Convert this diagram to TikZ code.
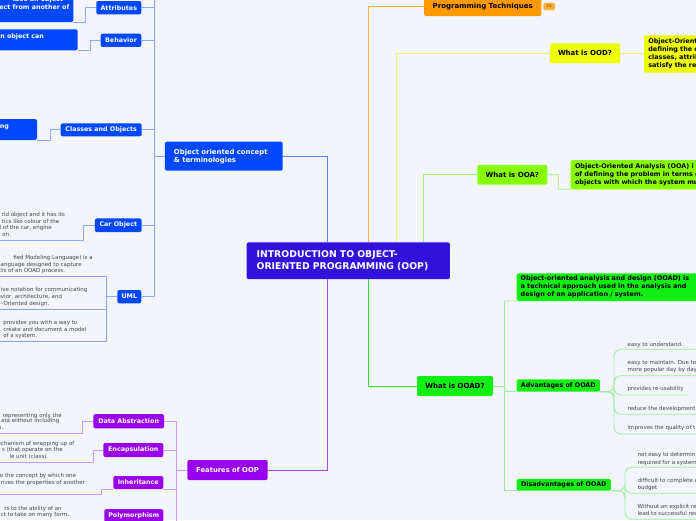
\documentclass[tikz,border=0pt]{standalone}
\usepackage{fontspec}
\setmainfont{DejaVu Sans}
\definecolor{bg}{HTML}{F3F5FD}
\definecolor{cblue}{HTML}{0048FF}
\definecolor{lblue}{HTML}{8AA8FF}
\definecolor{mblue}{HTML}{5A80FF}
\definecolor{cindigo}{HTML}{3311DD}
\definecolor{corange}{HTML}{FF9900}
\definecolor{lorange}{HTML}{FFB050}
\definecolor{cyellow}{HTML}{EEFF00}
\definecolor{lyellow}{HTML}{F2F270}
\definecolor{clime}{HTML}{88FF00}
\definecolor{llime}{HTML}{A8EE70}
\definecolor{cgreen}{HTML}{11EE11}
\definecolor{mgreen}{HTML}{33DD33}
\definecolor{lgreen}{HTML}{99EE99}
\definecolor{cpurple}{HTML}{9900EE}
\definecolor{mpurple}{HTML}{AA44EE}
\definecolor{lpurple}{HTML}{CC99FF}
\definecolor{txtgray}{HTML}{444444}
\definecolor{badgetxt}{HTML}{B05A00}
\begin{document}
\begin{tikzpicture}[x=1pt,y=-1pt,
  every node/.style={inner sep=0pt, outer sep=0pt},
  nbox/.style={rounded corners=2pt, align=center},
  fcent/.style={font=\fontsize{9.3}{11.6}\selectfont\bfseries},
  fla/.style={font=\fontsize{7}{8}\selectfont\bfseries},
  flb/.style={font=\fontsize{6.35}{8}\selectfont\bfseries},
  fdef/.style={font=\fontsize{6.45}{8}\selectfont\bfseries},
  fsm/.style={font=\fontsize{5.5}{7}\selectfont, text=txtgray},
  bluebox/.style={nbox, fill=cblue, text=white},
  purplebox/.style={nbox, fill=cpurple, text=white},
  bln/.style={draw=lblue, line width=0.8pt},
  mbln/.style={draw=mblue, line width=1pt},
  pln/.style={draw=lpurple, line width=0.8pt},
  mpln/.style={draw=mpurple, line width=1pt},
  gln/.style={draw=lgreen, line width=0.8pt},
  mgln/.style={draw=mgreen, line width=1pt},
]
\fill[bg] (0,0) rectangle (696,520);
\useasboundingbox (0,0) rectangle (696,520);

% ---------- central ----------
\node[nbox, fill=cindigo, text=white, fcent, minimum width=203.3pt, minimum height=36.7pt,
      text width=183.3pt, inner xsep=10pt, align=left] (root) at (348.3,260.7)
      {INTRODUCTION TO OBJECT-\\ORIENTED PROGRAMMING (OOP)};

% ---------- object oriented concept ----------
\node[bluebox, font=\fontsize{6.9}{8}\selectfont\bfseries, minimum width=117.7pt, minimum height=29pt,
      text width=99.7pt, inner xsep=9pt, align=left] (ooc) at (223.8,156.2)
      {Object oriented concept\\\& terminologies};
\draw[mbln] (ooc.east) -| ([xshift=81.3pt]root.north west);

\node[bluebox, flb, minimum width=45pt, minimum height=13.3pt] (attr) at (118.8,7.7) {Attributes};
\node[bluebox, flb, minimum width=40.6pt, minimum height=13.3pt] (beh) at (121,40.3) {Behavior};
\node[bluebox, flb, minimum width=81pt, minimum height=13pt] (cls) at (101.2,129.8) {Classes and Objects};
\node[bluebox, flb, minimum width=46.7pt, minimum height=13.7pt] (car) at (118.3,225.2) {Car Object};
\node[bluebox, flb, minimum width=24pt, minimum height=13.3pt] (uml) at (129.3,296.7) {UML};

\coordinate (btop) at (154,0);
\draw[bln] (btop) -- (uml.east -| btop);
\draw[bln] (ooc.west) -- (ooc.west -| btop);
\draw[bln] (attr.east) -- (attr.east -| btop);
\draw[bln] (beh.east) -- (beh.east -| btop);
\draw[bln] (cls.east) -- (cls.east -| btop);
\draw[bln] (car.east) -- (car.east -| btop);
\draw[bln] (uml.east) -- (uml.east -| btop);

% blue child boxes (cut by the left edge)
\node[bluebox, minimum width=133.3pt, minimum height=36pt] (attrc) at (6.65,4) {};
\node[flb, text=white, anchor=base east] (attrl1) at (63,1.5) {ibes an object};
\node[flb, text=white, anchor=base east] (attrl2) at (69.3,9.5) {ect from another of};
\draw[bln] (attr.west) -| (85.7,22) -- (attrc.south east);

\node[bluebox, minimum width=137.7pt, minimum height=21pt] (behc) at (8.85,39.8) {};
\node[flb, text=white, anchor=base east] (behl1) at (44,38.9) {n object can};
\draw[bln] (beh.west) -| (90,50.3) -- (behc.south east);

\node[bluebox, minimum width=97pt, minimum height=21pt] (clsc) at (-11.5,129.5) {};
\node[flb, text=white, anchor=base east] (clsl1) at (9,128.2) {ng};
\draw[bln] (cls.west) -| (50,140) -- (clsc.south east);

% car object text
\node[fsm, anchor=base east] (car1) at (65,216.1) {rld object and it has its};
\node[fsm, anchor=base east] (car2) at (59.3,223.1) {tics like colour of the};
\node[fsm, anchor=base east] (car3) at (51.7,229.8) {l of the car, engine};
\node[fsm, anchor=base east] (car4) at (11,236.8) {n on.};
\coordinate (carU) at (0,240);
\draw[bln] (car.west) -| (83.3,240) -- (carU);

% UML texts
\node[fsm, anchor=base east] (umla1) at (92.7,259.5) {fied Modeling Language) is a};
\node[fsm, anchor=base east] (umla2) at (81.7,266.1) {language designed to capture};
\node[fsm, anchor=base east] (umla3) at (65,272.8) {cts of an OOAD process.};
\node[fsm, anchor=base east] (umlb1) at (87.3,291.8) {ive notation for communicating};
\node[fsm, anchor=base east] (umlb2) at (62,298.5) {avior, architecture, and};
\node[fsm, anchor=base east] (umlb3) at (49.3,305.1) {-Oriented design.};
\node[fsm, anchor=base west] (umlc1) at (3.3,324.5) {provides you with a way to};
\node[fsm, anchor=base west] (umlc2) at (3.3,331.1) {create and document a model};
\node[fsm, anchor=base west] (umlc3) at (3.3,337.8) {of a system.};
\coordinate (umlUa) at (0,276);
\coordinate (umlUb) at (0,309);
\coordinate (umlUc) at (0,341.7);
\coordinate (umlJ) at (106.7,296.7);
\draw[bln] (umlUa) -- (umlUa -| umlJ) -- (umlUc -| umlJ) -- (umlUc);
\draw[bln] (umlUb) -- (umlUb -| umlJ);
\draw[bln] (uml.west) -- (umlJ);

% ---------- features of OOP ----------
\node[purplebox, font=\fontsize{6.8}{8}\selectfont\bfseries, minimum width=80.4pt, minimum height=20pt] (feat) at (227.5,470) {Features of OOP};
\draw[mpln] (feat.east) -| ([xshift=81pt]root.south west);

\node[purplebox, flb, minimum width=70.7pt, minimum height=14.3pt] (dabs) at (128.7,421.2) {Data Abstraction};
\node[purplebox, flb, minimum width=60pt, minimum height=14pt] (enc) at (133.3,450) {Encapsulation};
\node[purplebox, flb, minimum width=50pt, minimum height=13pt] (inh) at (138.3,482.5) {Inheritance};
\node[purplebox, flb, minimum width=59pt, minimum height=13pt] (poly) at (133.8,515.7) {Polymorphism};

\coordinate (ptop) at (176.7,421.2);
\draw[pln] (ptop) -- (176.7,530);
\draw[pln] (feat.west) -- (feat.west -| ptop);
\draw[pln] (dabs.east) -- (dabs.east -| ptop);
\draw[pln] (enc.east) -- (enc.east -| ptop);
\draw[pln] (inh.south east) -- (inh.south east -| ptop);
\draw[pln] (poly.south east) -- (poly.south east -| ptop);

\node[fsm, anchor=base east] (da1) at (61.7,417.1) {representing only the};
\node[fsm, anchor=base east] (da2) at (59.3,422.8) {ata without including};
\node[fsm, anchor=base east] (da3) at (3.3,429.1) {s.};
\coordinate (daU) at (0,433);
\draw[pln] (dabs.west) -| (82.7,433) -- (daU);

\node[fsm, anchor=base east] (en1) at (74.3,445.8) {echanism of wrapping up of};
\node[fsm, anchor=base east] (en2) at (62.7,451.5) {s (that operate on the};
\node[fsm, anchor=base east] (en3) at (48.3,458.5) {le unit (class).};
\coordinate (enU) at (0,462.3);
\draw[pln] (enc.west) -| (93.3,462.3) -- (enU);

\node[fsm, anchor=base east] (in1) at (76,477.8) {o the concept by which one};
\node[fsm, anchor=base east] (in2) at (85,484.5) {rives the properties of another};
\coordinate (inU) at (0,494.3);
\draw[pln] (inh.south west) -| (101.7,494.3) -- (inU);

\node[fsm, anchor=base east] (po1) at (61.7,510.8) {rs to the ability of an};
\node[fsm, anchor=base east] (po2) at (69,516.5) {ct to take on many form.};
\coordinate (poU) at (0,527);
\draw[pln] (poly.south west) -| (95,527) -- (poU);

% ---------- programming techniques ----------
\node[nbox, fill=corange, fla, minimum width=117.3pt, minimum height=19pt] (pt) at (482.7,6.5) {Programming Techniques};
\node[nbox, rounded corners=1.5pt, fill=corange!75, text=badgetxt, font=\fontsize{4}{4}\selectfont\bfseries,
      minimum width=11.7pt, minimum height=7.6pt] (badge) at (549.2,6.5) {15};
\draw[draw=lorange, line width=1pt] (pt.west) -| ([xshift=122.3pt]root.north west);

% ---------- what is OOD ----------
\node[nbox, fill=cyellow, fla, minimum width=70pt, minimum height=20pt] (ood) at (585,53.3) {What is OOD?};
\node[nbox, fill=cyellow, fdef, anchor=west, minimum height=37.4pt, text width=120pt, inner xsep=4.3pt, align=left]
      (ooddef) at (644,54) {Object-Orient\\defining the c\\classes, attrib\\satisfy the re};
\draw[draw=lyellow, line width=1pt] (ood.west) -| ([xshift=150pt]root.north west);
\draw[draw=lyellow, line width=0.8pt] (ood.east) -- (ood.east -| ooddef.west);

% ---------- what is OOA ----------
\node[nbox, fill=clime, fla, minimum width=70pt, minimum height=19.7pt] (ooa) at (512.3,174.8) {What is OOA?};
\node[nbox, fill=clime, fdef, anchor=west, minimum height=29.3pt, text width=160pt, inner xsep=4.3pt, align=left]
      (ooadef1) at (570.7,174.7) {Object-Oriented Analysis (OOA) i\\of defining the problem in terms o\\objects with which the system mu};
\draw[draw=llime, line width=1pt] (ooa.west) -| ([xshift=177.3pt]root.north west);
\draw[draw=llime, line width=0.8pt] (ooa.east) -| (558.3,189.3) -- (ooadef1.south west);

% ---------- what is OOAD ----------
\node[nbox, fill=cgreen, fla, minimum width=76pt, minimum height=20pt] (ooad) at (455,386) {What is OOAD?};
\draw[mgln] (ooad.west) -| ([xshift=122.3pt]root.south west);
\node[nbox, fill=cgreen, fdef, anchor=west, minimum height=27.7pt, text width=180pt, inner xsep=4pt, align=left]
      (ooaddef) at (516.7,287.2) {Object-oriented analysis and design (OOAD) is\\a technical approach used in the analysis and\\design of an application / system.};
\node[nbox, fill=cgreen, flb, minimum width=83.3pt, minimum height=12.4pt] (adv) at (558.3,385.5) {Advantages of OOAD};
\node[nbox, fill=cgreen, flb, minimum width=94.3pt, minimum height=11.7pt] (dis) at (563.8,484.8) {Disadvantages of OOAD};

\coordinate (gtr) at (504,301);
\draw[gln] (gtr) -- (dis.south west -| gtr) -- (dis.south west);
\draw[gln] (gtr) -- (ooaddef.south west);
\draw[gln] (ooad.east) -- (ooad.east -| gtr);
\draw[gln] (adv.south west -| gtr) -- (adv.south west);

% advantages children
\node[fsm, anchor=base west] (a1) at (627.7,346.1) {easy to understand.};
\node[fsm, anchor=base west] (a2a) at (627.7,364.1) {easy to maintain. Due to};
\node[fsm, anchor=base west] (a2b) at (627.7,371.8) {more popular day by day};
\node[fsm, anchor=base west] (a3) at (627.7,390.8) {provides re-usability};
\node[fsm, anchor=base west] (a4) at (627.7,410.8) {reduce the development};
\node[fsm, anchor=base west] (a5) at (627.7,429.8) {improves the quality of t};
\coordinate (a1e) at (700,349.3);
\coordinate (a2e) at (700,375.7);
\coordinate (a3e) at (688.3,395);
\coordinate (a4e) at (700,414.3);
\coordinate (a5e) at (700,434);
\foreach \e in {a1e,a2e,a3e,a4e,a5e}{
  \draw[gln, rounded corners=7pt] (adv.south east) -- (614,391.7) -- (614,0 |- \e) -- (\e);
}

% disadvantages children
\node[fsm, anchor=base west] (d1a) at (637.7,456.8) {not easy to determin};
\node[fsm, anchor=base west] (d1b) at (637.7,464.1) {required for a system};
\node[fsm, anchor=base west] (d2a) at (637.7,482.5) {difficult to complete a};
\node[fsm, anchor=base west] (d2b) at (637.7,489.5) {budget};
\node[fsm, anchor=base west] (d3a) at (637.7,508.5) {Without an explicit re};
\node[fsm, anchor=base west] (d3b) at (637.7,515.8) {lead to successful res};
\coordinate (d1e) at (700,467.3);
\coordinate (d2e) at (700,493.3);
\coordinate (d3e) at (700,519.3);
\foreach \e in {d1e,d2e,d3e}{
  \draw[gln, rounded corners=7pt] (dis.south east) -- (625,490.7) -- (625,0 |- \e) -- (\e);
}
\end{tikzpicture}
\end{document}
